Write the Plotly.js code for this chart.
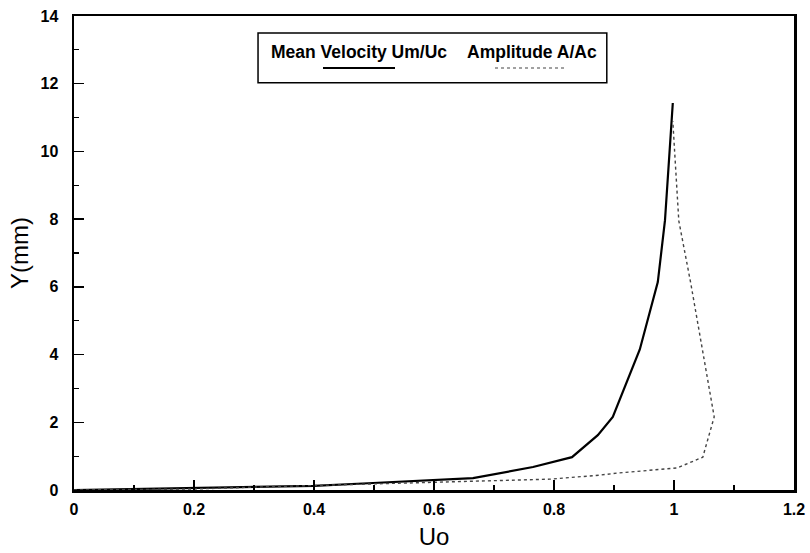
<!DOCTYPE html>
<html>
<head>
<meta charset="utf-8">
<script src="https://cdn.plot.ly/plotly-3.0.1.min.js"></script>
<style>html,body{margin:0;padding:0;background:#fff;}#chart{width:810px;height:553px;}</style>
</head>
<body>
<div id="chart"></div>
<script>
// Mean velocity Um/Uc profile
const meanU = [0, 0.2, 0.4, 0.49, 0.6, 0.665, 0.765, 0.83, 0.873, 0.898, 0.943, 0.973, 0.985, 0.998];
const meanY = [0, 0.05, 0.12, 0.2, 0.3, 0.35, 0.68, 0.97, 1.62, 2.16, 4.15, 6.14, 7.97, 11.43];
// Amplitude A/Ac profile
const ampU = [0, 0.2, 0.31, 0.5, 0.605, 0.793, 0.877, 0.905, 1.005, 1.048, 1.067, 1.048, 1.028, 1.008, 0.998];
const ampY = [0, 0.03, 0.09, 0.18, 0.24, 0.32, 0.44, 0.5, 0.65, 0.97, 2.16, 4.13, 6.1, 7.95, 10.9];
const seriesNames = ["Mean Velocity Um/Uc", "Amplitude A/Ac"];
const xTickVals = [0, 0.2, 0.4, 0.6, 0.8, 1, 1.2];
const xTickText = ["0", "0.2", "0.4", "0.6", "0.8", "1", "1.2"];
const yTickVals = [0, 2, 4, 6, 8, 10, 12, 14];
const yTickText = ["0", "2", "4", "6", "8", "10", "12", "14"];

const FONT = "Liberation Sans, Arial, sans-serif";
const bold = arr => arr.map(s => "<b>" + s + "</b>");

const traces = [
  {x: meanU, y: meanY, mode: "lines", name: seriesNames[0],
   line: {color: "#000", width: 2.2}, showlegend: false},
  {x: ampU, y: ampY, mode: "lines", name: seriesNames[1],
   line: {color: "#444", width: 1.4, dash: "dot"}, showlegend: false}
];

const axisCommon = {
  showgrid: false, zeroline: false, showline: true, linecolor: "#000", linewidth: 2.5,
  mirror: true, ticks: "inside", ticklen: 10, tickwidth: 1.5, tickcolor: "#000",
  tickfont: {family: FONT, size: 16, color: "#000"},
  minor: {ticks: "inside", ticklen: 5, tickwidth: 1.2, tickcolor: "#000"}
};

const layout = {
  width: 810, height: 553,
  margin: {l: 74, r: 16, t: 16, b: 63},
  paper_bgcolor: "#fff", plot_bgcolor: "#fff",
  font: {family: FONT, color: "#000"},
  xaxis: Object.assign({}, axisCommon, {
    range: [0, 1.2], tickvals: xTickVals, ticktext: bold(xTickText),
    minor: Object.assign({}, axisCommon.minor, {dtick: 0.1, tick0: 0}),
    ticklabelstandoff: 3,
    title: {text: "Uo", font: {family: FONT, size: 24, color: "#000"}, standoff: 12}
  }),
  yaxis: Object.assign({}, axisCommon, {
    range: [0, 14], tickvals: yTickVals, ticktext: bold(yTickText),
    minor: Object.assign({}, axisCommon.minor, {dtick: 1, tick0: 0}),
    ticklabelstandoff: 10,
    title: {text: "Y(mm)", font: {family: FONT, size: 24, color: "#000"}, standoff: 5}
  }),
  shapes: [
    {type: "rect", xref: "paper", yref: "paper", x0: 0.2556, x1: 0.740, y0: 0.859, y1: 0.964,
     line: {color: "#000", width: 1.5}, fillcolor: "#fff", layer: "above"},
    {type: "line", xref: "paper", yref: "paper", x0: (323-74)/720, x1: (395-74)/720,
     y0: (490-68)/474, y1: (490-68)/474, line: {color: "#000", width: 2}},
    {type: "line", xref: "paper", yref: "paper", x0: (495-74)/720, x1: (565-74)/720,
     y0: (490-68)/474, y1: (490-68)/474, line: {color: "#444", width: 1.2, dash: "dot"}}
  ],
  annotations: [
    {text: "<b>" + seriesNames[0] + "</b>", xref: "paper", yref: "paper",
     x: (359-74)/720, y: (490-52)/474, xanchor: "center", yanchor: "middle", showarrow: false,
     font: {family: FONT, size: 17.5, color: "#000"}},
    {text: "<b>" + seriesNames[1] + "</b>", xref: "paper", yref: "paper",
     x: (532-74)/720, y: (490-52)/474, xanchor: "center", yanchor: "middle", showarrow: false,
     font: {family: FONT, size: 17.5, color: "#000"}}
  ]
};

Plotly.newPlot("chart", traces, layout, {displayModeBar: false, staticPlot: true});
</script>
</body>
</html>
